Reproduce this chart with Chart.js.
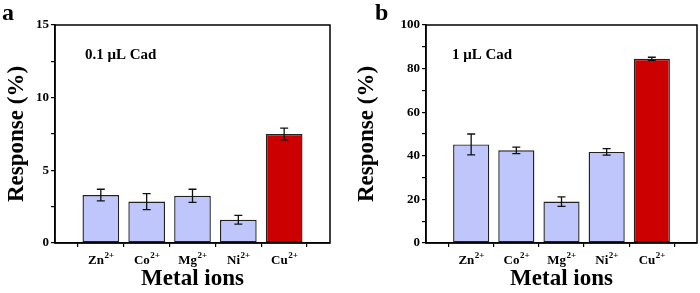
<!DOCTYPE html>
<html>
<head>
<meta charset="utf-8">
<script src="https://cdn.jsdelivr.net/npm/chart.js@4"></script>
<style>
  html, body { margin: 0; padding: 0; background: #fff; }
  #wrap { position: relative; width: 700px; height: 293px; overflow: hidden; }
  .panel { position: absolute; top: 0; width: 350px; height: 293px; }
</style>
</head>
<body>
<div id="wrap">
  <div class="panel" style="left:0"><canvas id="chartA" width="350" height="293"></canvas></div>
  <div class="panel" style="left:350px"><canvas id="chartB" width="350" height="293"></canvas></div>
</div>
<script>
// categories
const ions = ['Zn', 'Co', 'Mg', 'Ni', 'Cu'];
const ionCharges = ['2+', '2+', '2+', '2+', '2+'];

// panel a: 0.1 uL Cad
const responseA = [3.3, 2.85, 3.25, 1.6, 7.5];
const errorA = [0.4, 0.55, 0.45, 0.3, 0.4];
const yTicksA = [0, 5, 10, 15];

// panel b: 1 uL Cad
const responseB = [45.2, 42.5, 19.0, 41.8, 84.5];
const errorB = [4.8, 1.5, 2.2, 1.5, 0.7];
const yTicksB = [0, 20, 40, 60, 80, 100];

const barColors = ['#bfc6fb', '#bfc6fb', '#bfc6fb', '#bfc6fb', '#cc0000'];
const serif = '"Liberation Serif", "Times New Roman", serif';

// empty slot on each side so bars sit at 1..5 of a 0..6 axis
const padded = arr => [null, ...arr, null];

const framePlugin = {
    id: 'frame',
    afterDatasetsDraw(chart, args, opts) {
        const ctx = chart.ctx;
        const area = chart.chartArea;
        const x = chart.scales.x;
        const y = chart.scales.y;

        // error bars
        ctx.save();
        ctx.strokeStyle = '#111';
        ctx.lineWidth = 1.3;
        opts.values.forEach((v, i) => {
            const px = x.getPixelForValue(i + 1);
            const top = y.getPixelForValue(v + opts.errors[i]);
            const bot = y.getPixelForValue(v - opts.errors[i]);
            ctx.beginPath();
            ctx.moveTo(px, top); ctx.lineTo(px, bot);
            ctx.moveTo(px - 4, top); ctx.lineTo(px + 4, top);
            ctx.moveTo(px - 4, bot); ctx.lineTo(px + 4, bot);
            ctx.stroke();
        });
        ctx.restore();

        // box
        ctx.save();
        ctx.strokeStyle = '#000';
        ctx.lineWidth = 1.5;
        ctx.strokeRect(area.left, area.top, area.right - area.left, area.bottom - area.top);
        ctx.restore();

        // x labels with superscripts
        ctx.save();
        ctx.fillStyle = '#000';
        ctx.textBaseline = 'alphabetic';
        ions.forEach((name, i) => {
            const px = x.getPixelForValue(i + 1);
            ctx.font = 'bold 13px ' + serif;
            const w1 = ctx.measureText(name).width;
            ctx.font = 'bold 9px ' + serif;
            const w2 = ctx.measureText(ionCharges[i]).width;
            const start = px - (w1 + w2) / 2;
            ctx.font = 'bold 13px ' + serif;
            ctx.fillText(name, start, 264);
            ctx.font = 'bold 9px ' + serif;
            ctx.fillText(ionCharges[i], start + w1 + 0.5, 258);
        });

        // note and panel letter
        ctx.font = 'bold 15px ' + serif;
        ctx.textBaseline = 'middle';
        ctx.fillText(opts.note, opts.noteX, 55);
        ctx.font = 'bold 24px ' + serif;
        ctx.textBaseline = 'alphabetic';
        ctx.fillText(opts.letter, opts.letterX, 20);
        ctx.restore();
    }
};

function makeChart(id, values, errors, yTicks, axisWidth, padRight, note, noteX, letter, letterX) {
    const major = yTicks[1] - yTicks[0];
    return new Chart(document.getElementById(id), {
        type: 'bar',
        data: {
            labels: padded(ions),
            datasets: [{
                data: padded(values),
                backgroundColor: padded(barColors),
                borderColor: '#222',
                borderWidth: 1.4,
                borderSkipped: false,
                categoryPercentage: 1,
                barPercentage: 0.8
            }]
        },
        options: {
            responsive: false,
            devicePixelRatio: 1,
            animation: false,
            layout: { padding: { top: 25, right: padRight, left: 0, bottom: 0 } },
            plugins: {
                legend: { display: false },
                tooltip: { enabled: false },
                frame: { values, errors, note, noteX, letter, letterX }
            },
            scales: {
                x: {
                    type: 'category',
                    offset: false,
                    afterFit: s => { s.height = 50; },
                    grid: { drawOnChartArea: false, drawTicks: true, tickLength: 4, color: '#000', lineWidth: 1.2 },
                    border: { display: true, color: '#000', width: 1.5 },
                    ticks: { display: false },
                    title: {
                        display: true,
                        text: 'Metal ions',
                        color: '#000',
                        font: { family: serif, size: 23, weight: 'bold' },
                        padding: { top: 0, bottom: 0 }
                    }
                },
                y: {
                    min: yTicks[0],
                    max: yTicks[yTicks.length - 1],
                    afterFit: s => { s.width = axisWidth; },
                    grid: { drawOnChartArea: false, drawTicks: true, tickLength: 4, color: '#000', lineWidth: 1.2 },
                    border: { display: true, color: '#000', width: 1.5 },
                    ticks: {
                        stepSize: major / 2,
                        color: '#000',
                        padding: 2,
                        font: { family: serif, size: 13, weight: 'bold' },
                        callback: v => (yTicks.includes(v) ? v : '')
                    },
                    title: {
                        display: true,
                        text: 'Response (%)',
                        color: '#000',
                        font: { family: serif, size: 23, weight: 'bold' },
                        padding: { top: 3, bottom: 0 }
                    }
                }
            }
        },
        plugins: [framePlugin]
    });
}

makeChart('chartA', responseA, errorA, yTicksA, 55, 20, '0.1 \u03bcL Cad', 85, 'a', 2);
makeChart('chartB', responseB, errorB, yTicksB, 76, 3, '1 \u03bcL Cad', 102, 'b', 25);
</script>
</body>
</html>
